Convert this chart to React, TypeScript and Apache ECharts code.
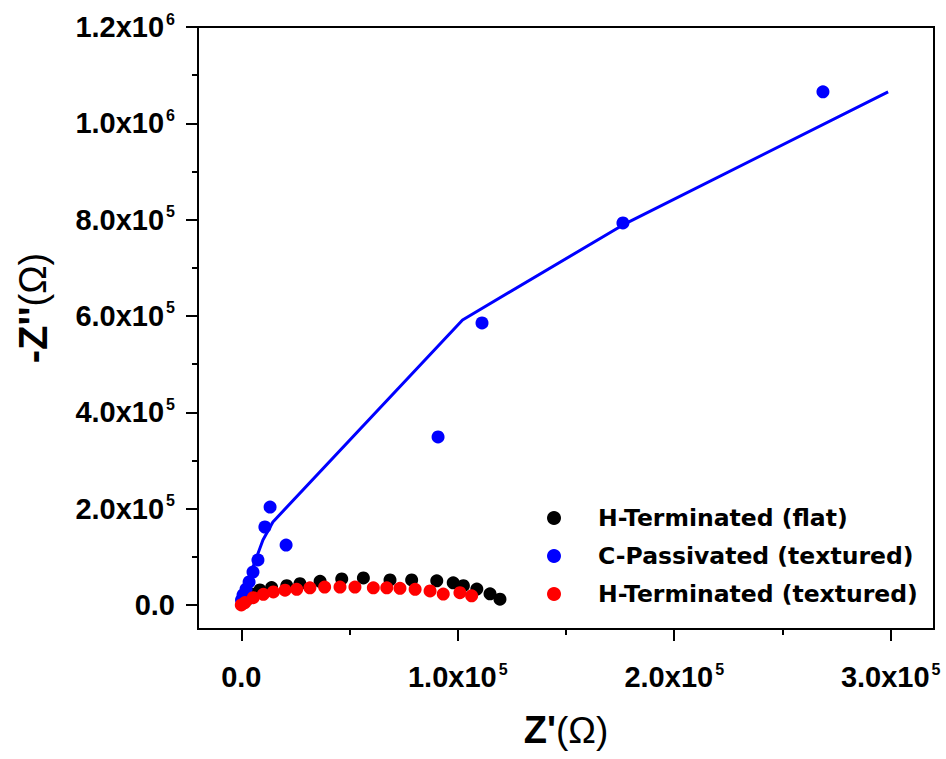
import React, { useEffect, useRef } from "react";
import * as echarts from "echarts";

// ---- data (Z' , -Z'') in ohm ----
const hTermFlat: number[][] = [
  [1000, 4000], [3000, 12000], [5500, 22000], [8600, 31000], [14000, 36000],
  [21000, 40000], [27100, 44000], [36400, 49000], [46400, 54000], [56400, 56000],
  [68700, 52000], [78700, 52000], [90300, 50000], [97900, 46000], [102600, 40000],
  [108800, 33000], [114900, 23000], [119500, 12000],
];

const cPassTextured: number[][] = [
  [100, 10200], [800, 20600], [2200, 33000], [3600, 47600], [5400, 68300],
  [7700, 93300], [10900, 161800], [13300, 203300], [20700, 124400],
  [90900, 348700], [111200, 585500], [176300, 793200], [268700, 1065300],
];

const hTermTextured: number[][] = [
  [0, 0], [1700, 5000], [5500, 15000], [10200, 22000], [14800, 27000],
  [20200, 30500], [25600, 32500], [31700, 35500], [38500, 37000], [45600, 37000],
  [52500, 37000], [61000, 35500], [67200, 35500], [73300, 34500], [80300, 32500],
  [87200, 29000], [93300, 22500], [101000, 25500], [106400, 19000],
];

const cPassFit: number[][] = [
  [0, 0], [5400, 78700], [10000, 134900], [14600, 172300], [102200, 591700],
  [176300, 789000], [298800, 1065300],
];

const seriesNames = [
  "H-Terminated (flat)",
  "C-Passivated (textured)",
  "H-Terminated (textured)",
];

const xMajorTicks = [0, 100000, 200000, 300000];
const xMinorTicks = [50000, 150000, 250000];
const yMajorTicks = [0, 200000, 400000, 600000, 800000, 1000000, 1200000];
const yMinorTicks = [100000, 300000, 500000, 700000, 900000, 1100000];

const TICK_FONT = "'Liberation Sans', Arial, sans-serif";

function sciLabel(v: number): string {
  if (v === 0) return "{b|0.0}";
  const e = Math.floor(Math.log10(Math.abs(v)) + 1e-9);
  const m = (v / Math.pow(10, e)).toFixed(1);
  return `{b|${m}x10}{s|${e}}`;
}

const richTick = {
  b: { fontSize: 29, fontWeight: "bold", fontFamily: TICK_FONT, color: "#000", lineHeight: 32 },
  s: { fontSize: 16, fontWeight: "bold", fontFamily: TICK_FONT, color: "#000", lineHeight: 16, verticalAlign: "top", padding: [0, 0, 0, 2] },
};

export default function App() {
  const ref = useRef<HTMLDivElement>(null);

  useEffect(() => {
    if (!ref.current) return;
    const chart = echarts.init(ref.current, undefined, { renderer: "svg" });
    const axisLineStyle = { color: "#000", width: 2 };

    const option: any = {
      animation: false,
      backgroundColor: "#ffffff",
      grid: {
        left: 198, top: 27, width: 736, height: 602,
        show: true, borderColor: "#000", borderWidth: 2, backgroundColor: "transparent",
      },
      legend: {
        data: seriesNames,
        orient: "vertical",
        left: 547,
        top: 506,
        padding: 0,
        itemGap: 14,
        itemWidth: 78,
        itemHeight: 14,
        icon: "circle",
        selectedMode: false,
        textStyle: {
          fontFamily: "'DejaVu Sans', sans-serif",
          fontWeight: "bold",
          fontSize: 23.5,
          lineHeight: 24,
          color: "#000",
        },
      },
      xAxis: [
        {
          type: "value", min: -20000, max: 320000, position: "bottom",
          name: "{b|Z'}{n|(Ω)}",
          nameLocation: "middle",
          nameGap: 80,
          nameTextStyle: {
            rich: {
              b: { fontSize: 38, fontWeight: "bold", fontFamily: TICK_FONT, color: "#000", lineHeight: 42 },
              n: { fontSize: 37, fontWeight: "normal", fontFamily: TICK_FONT, color: "#000", lineHeight: 42 },
            },
          },
          axisLine: { show: true, onZero: false, lineStyle: axisLineStyle },
          axisTick: { show: true, inside: false, length: 12, lineStyle: axisLineStyle, customValues: xMajorTicks },
          axisLabel: { show: true, margin: 32, customValues: xMajorTicks, formatter: (v: number) => sciLabel(v), rich: richTick },
          splitLine: { show: false },
        },
        {
          type: "value", min: -20000, max: 320000, position: "bottom",
          axisLine: { show: false, onZero: false },
          axisTick: { show: true, inside: false, length: 6, lineStyle: axisLineStyle, customValues: xMinorTicks },
          axisLabel: { show: false },
          splitLine: { show: false },
        },
      ],
      yAxis: [
        {
          type: "value", min: -50000, max: 1200000, position: "left",
          name: "{b|-Z''}{n|(Ω)}",
          nameLocation: "middle",
          nameRotate: 90,
          nameGap: 143,
          nameTextStyle: {
            padding: [0, 0, 0, 40],
            rich: {
              b: { fontSize: 40, fontWeight: "bold", fontFamily: TICK_FONT, color: "#000", lineHeight: 44 },
              n: { fontSize: 38, fontWeight: "normal", fontFamily: TICK_FONT, color: "#000", lineHeight: 44 },
            },
          },
          axisLine: { show: true, onZero: false, lineStyle: axisLineStyle },
          axisTick: { show: true, inside: false, length: 12, lineStyle: axisLineStyle, customValues: yMajorTicks },
          axisLabel: { show: true, margin: 23, customValues: yMajorTicks, formatter: (v: number) => sciLabel(v), rich: richTick },
          splitLine: { show: false },
        },
        {
          type: "value", min: -50000, max: 1200000, position: "left",
          axisLine: { show: false, onZero: false },
          axisTick: { show: true, inside: false, length: 6, lineStyle: axisLineStyle, customValues: yMinorTicks },
          axisLabel: { show: false },
          splitLine: { show: false },
        },
      ],
      series: [
        {
          name: "C-Passivated fit", type: "line", data: cPassFit, xAxisIndex: 0, yAxisIndex: 0,
          showSymbol: false, symbol: "none", lineStyle: { color: "#0000ff", width: 3 }, z: 1,
        },
        {
          name: seriesNames[0], type: "scatter", data: hTermFlat, symbol: "circle", symbolSize: 13,
          itemStyle: { color: "#000000", opacity: 1 }, z: 2,
        },
        {
          name: seriesNames[1], type: "scatter", data: cPassTextured, symbol: "circle", symbolSize: 13,
          itemStyle: { color: "#0000ff", opacity: 1 }, z: 3,
        },
        {
          name: seriesNames[2], type: "scatter", data: hTermTextured, symbol: "circle", symbolSize: 13,
          itemStyle: { color: "#ff0000", opacity: 1 }, z: 4,
        },
      ],
    };

    chart.setOption(option);
    return () => chart.dispose();
  }, []);

  return (
    <div
      ref={ref}
      style={{ position: "fixed", left: 0, top: 0, width: 946, height: 759, background: "#fff" }}
    />
  );
}
